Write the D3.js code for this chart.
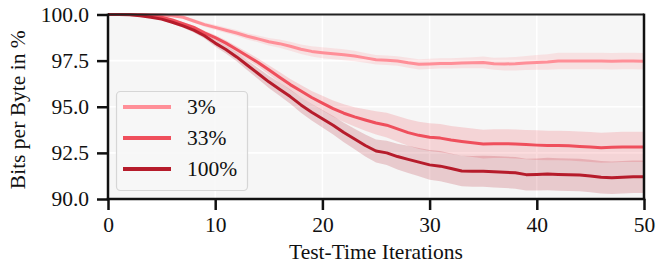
<!DOCTYPE html>
<html><head><meta charset="utf-8">
<script src="https://cdn.jsdelivr.net/npm/d3@7"></script>
<style>body{margin:0;background:#fff}svg{display:block}</style>
</head><body>
<script>
const iterations = d3.range(0, 51);
const seriesNames = ["3%", "33%", "100%"];
const mean3 = [100,100,100,100,99.99,99.97,99.93,99.85,99.65,99.45,99.3,99.15,99.0,98.82,98.68,98.52,98.42,98.28,98.12,98.0,97.93,97.87,97.82,97.75,97.65,97.55,97.52,97.48,97.38,97.3,97.32,97.35,97.35,97.37,97.38,97.4,97.33,97.32,97.33,97.37,97.4,97.42,97.48,97.48,97.48,97.48,97.48,97.47,97.48,97.48,97.47];
const mean33 = [100,100,100,99.98,99.95,99.85,99.7,99.5,99.3,99.0,98.75,98.45,98.1,97.75,97.4,97.0,96.6,96.2,95.85,95.5,95.2,94.9,94.65,94.45,94.28,94.12,94.0,93.8,93.6,93.45,93.35,93.3,93.2,93.12,93.05,92.98,93.0,93.0,92.98,92.95,92.92,92.9,92.9,92.88,92.85,92.82,92.78,92.8,92.82,92.82,92.82];
const mean100 = [100,100,99.98,99.93,99.85,99.75,99.58,99.38,99.15,98.85,98.45,98.1,97.7,97.25,96.8,96.35,95.95,95.55,95.1,94.7,94.35,94.0,93.6,93.25,92.9,92.6,92.5,92.3,92.15,92.0,91.85,91.78,91.65,91.52,91.5,91.5,91.48,91.45,91.42,91.32,91.33,91.35,91.33,91.32,91.3,91.25,91.18,91.15,91.18,91.2,91.2];
const std3 = [0,0,0,0,0,0.02,0.04,0.07,0.1,0.12,0.14,0.15,0.16,0.17,0.18,0.2,0.22,0.24,0.26,0.28,0.3,0.3,0.3,0.28,0.27,0.26,0.26,0.26,0.27,0.28,0.28,0.28,0.28,0.29,0.3,0.32,0.33,0.35,0.37,0.38,0.4,0.42,0.45,0.45,0.45,0.45,0.45,0.45,0.45,0.45,0.45];
const std33 = [0,0,0,0,0.02,0.04,0.06,0.08,0.1,0.12,0.14,0.16,0.18,0.2,0.22,0.25,0.28,0.3,0.33,0.36,0.4,0.44,0.48,0.52,0.58,0.63,0.67,0.7,0.72,0.74,0.75,0.76,0.76,0.77,0.77,0.78,0.78,0.78,0.79,0.79,0.8,0.8,0.8,0.8,0.81,0.81,0.81,0.82,0.82,0.82,0.82];
const std100 = [0,0,0,0.02,0.04,0.06,0.08,0.1,0.12,0.15,0.18,0.21,0.24,0.27,0.3,0.33,0.36,0.39,0.42,0.45,0.48,0.5,0.53,0.56,0.59,0.62,0.66,0.7,0.74,0.77,0.8,0.82,0.82,0.83,0.83,0.84,0.85,0.85,0.86,0.86,0.87,0.88,0.88,0.88,0.88,0.88,0.88,0.88,0.88,0.88,0.88];
const colors = ["#ff8f98", "#ef4f5c", "#b61c2b"];
const xTicks = [0, 10, 20, 30, 40, 50];
const yTicks = [90.0, 92.5, 95.0, 97.5, 100.0];

const means = [mean3, mean33, mean100];
const stds = [std3, std33, std100];

const W = 657, H = 263;
const m = {left: 108, right: 13, top: 14.5, bottom: 64};
const FONT = "Liberation Serif";

const svg = d3.select("body").append("svg").attr("width", W).attr("height", H)
  .attr("font-family", FONT);

const x = d3.scaleLinear().domain([0, 50]).range([m.left, W - m.right]);
const y = d3.scaleLinear().domain([90, 100]).range([H - m.bottom, m.top]);

svg.append("rect").attr("x", x(0)).attr("y", y(100)).attr("width", x(50) - x(0)).attr("height", y(90) - y(100)).attr("fill", "#f6f6f6");

const grid = svg.append("g");
grid.selectAll(".gx").data(xTicks.slice(1, -1)).join("line")
  .attr("x1", d => x(d)).attr("x2", d => x(d)).attr("y1", y(90)).attr("y2", y(100))
  .attr("stroke", "#fff").attr("stroke-width", 1.6);
grid.selectAll(".gy").data(yTicks.slice(1, -1)).join("line")
  .attr("y1", d => y(d)).attr("y2", d => y(d)).attr("x1", x(0)).attr("x2", x(50))
  .attr("stroke", "#fff").attr("stroke-width", 1.6);

const plot = svg.append("g");
means.forEach((mu, k) => {
  const area = d3.area().x((d, i) => x(iterations[i])).y0((d, i) => y(mu[i] - stds[k][i])).y1((d, i) => y(mu[i] + stds[k][i]));
  plot.append("path").datum(mu).attr("d", area).attr("fill", colors[k]).attr("fill-opacity", 0.2);
});
means.forEach((mu, k) => {
  const line = d3.line().x((d, i) => x(iterations[i])).y(d => y(d));
  plot.append("path").datum(mu).attr("d", line).attr("fill", "none")
    .attr("stroke", colors[k]).attr("stroke-width", 3).attr("stroke-linejoin", "round");
});

const xAxis = svg.append("g").attr("transform", `translate(0,${y(90)})`)
  .call(d3.axisBottom(x).tickValues(xTicks).tickFormat(d3.format("d")).tickSize(11).tickPadding(7));
const yAxis = svg.append("g").attr("transform", `translate(${x(0)},0)`)
  .call(d3.axisLeft(y).tickValues(yTicks).tickFormat(d3.format(".1f")).tickSize(11).tickPadding(8));
[xAxis, yAxis].forEach(a => {
  a.attr("font-family", FONT).attr("font-size", 21.5);
  a.select(".domain").remove();
  a.selectAll(".tick line").attr("stroke", "#111").attr("stroke-width", 2.5);
  a.selectAll(".tick text").attr("fill", "#111");
});

svg.append("line").attr("x1", x(0)).attr("x2", x(50)).attr("y1", y(100)).attr("y2", y(100)).attr("stroke", "#222").attr("stroke-width", 1.8);
svg.append("line").attr("x1", x(50)).attr("x2", x(50)).attr("y1", y(100) - 0.9).attr("y2", y(90)).attr("stroke", "#111").attr("stroke-width", 2.5);
svg.append("line").attr("x1", x(0)).attr("x2", x(0)).attr("y1", y(100) - 0.9).attr("y2", y(90) + 1.25).attr("stroke", "#111").attr("stroke-width", 2.5);
svg.append("line").attr("x1", x(0) - 1.25).attr("x2", x(50) + 1.25).attr("y1", y(90)).attr("y2", y(90)).attr("stroke", "#111").attr("stroke-width", 2.5);

svg.append("text").attr("x", (x(0) + x(50)) / 2).attr("y", 259).attr("text-anchor", "middle")
  .attr("font-size", 21.5).attr("fill", "#111").text("Test-Time Iterations");
svg.append("text").attr("transform", `translate(25,${(y(90) + y(100)) / 2 + 3}) rotate(-90)`)
  .attr("text-anchor", "middle").attr("font-size", 21.5).attr("fill", "#111").text("Bits per Byte in %");

const lg = svg.append("g");
lg.append("rect").attr("x", 116.5).attr("y", 91.5).attr("width", 131).attr("height", 99).attr("rx", 4)
  .attr("fill", "#f7f7f7").attr("fill-opacity", 0.85).attr("stroke", "#d6d6d6").attr("stroke-width", 1.2);
seriesNames.forEach((name, k) => {
  const yy = 107 + k * 31;
  lg.append("line").attr("x1", 123).attr("x2", 171).attr("y1", yy).attr("y2", yy)
    .attr("stroke", colors[k]).attr("stroke-width", 4);
  lg.append("text").attr("x", 187).attr("y", yy + 7).attr("font-size", 21.5).attr("fill", "#111").text(name);
});
</script>
</body></html>
